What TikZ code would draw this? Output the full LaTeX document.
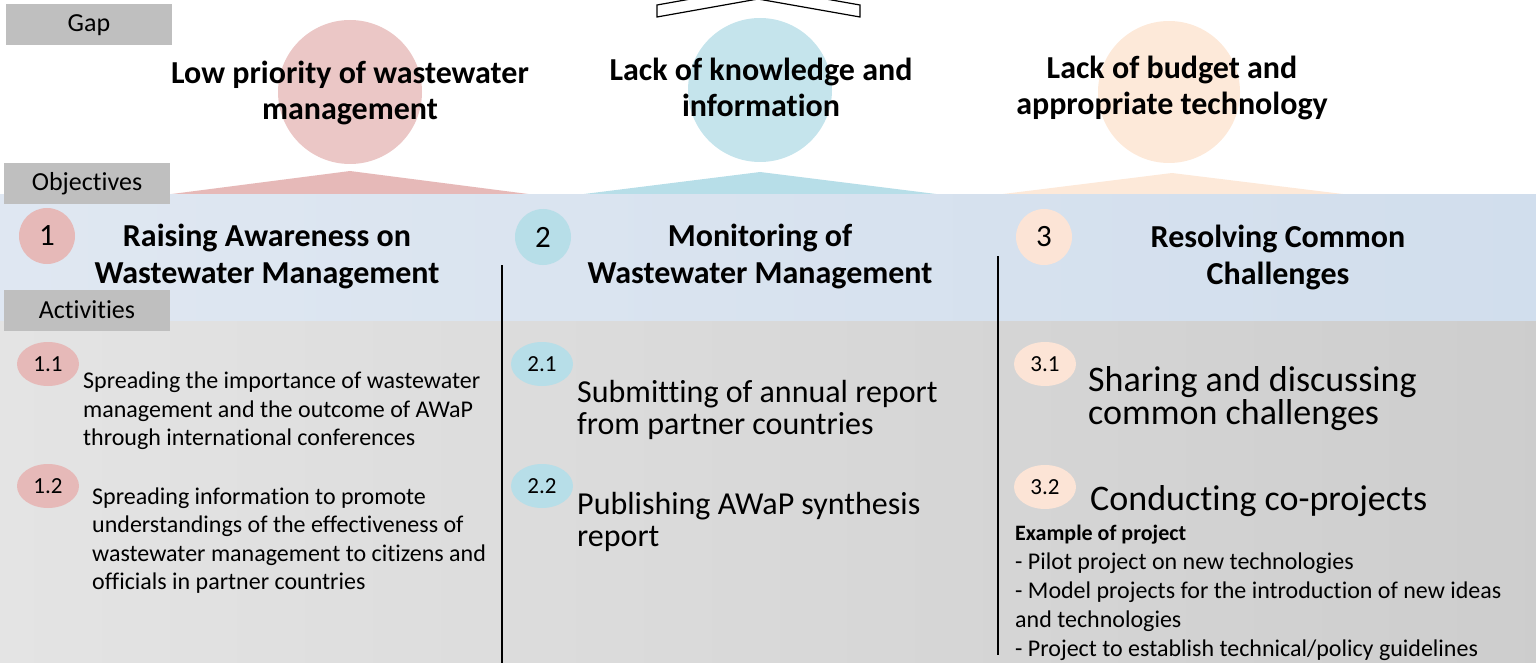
\documentclass[tikz,border=0pt]{standalone}
\usepackage{fontspec}
\setmainfont{Carlito}[Ligatures=NoCommon]
\usetikzlibrary{shapes.geometric}

\definecolor{taggray}{HTML}{BFBFBF}
\definecolor{pinkgap}{HTML}{EBC7C6}
\definecolor{bluegap}{HTML}{C5E4EC}
\definecolor{peachgap}{HTML}{FDE9D9}
\definecolor{pinkc}{HTML}{E6B9B8}
\definecolor{bluec}{HTML}{B7DEE8}
\definecolor{peachc}{HTML}{FCE4D6}
\definecolor{bandA}{HTML}{E3EAF3}
\definecolor{bandB}{HTML}{CAD9EA}
\definecolor{actA}{HTML}{E4E4E4}
\definecolor{actB}{HTML}{C2C2C2}

\pgfdeclarehorizontalshading{objband}{100bp}{color(0bp)=(white); color(12bp)=(bandA); color(100bp)=(bandB)}
\pgfdeclarehorizontalshading{actband}{100bp}{color(0bp)=(white); color(25bp)=(actA); color(100bp)=(actB)}

\tikzset{
  tag/.style={fill=taggray, minimum width=166pt, minimum height=41pt, inner sep=0pt,
    font=\fontsize{26}{28}\selectfont},
  gaptext/.style={align=center, font=\bfseries\fontsize{32}{36}\selectfont},
  objtext/.style={align=center, font=\bfseries\fontsize{32}{37}\selectfont},
  numdot/.style={circle, minimum size=56pt, inner sep=0pt, font=\fontsize{31}{32}\selectfont},
  subdot/.style={ellipse, minimum width=62pt, minimum height=44pt, inner sep=0pt,
    font=\fontsize{23}{24}\selectfont},
  smalltext/.style={align=left, anchor=west, inner sep=0pt, font=\fontsize{24}{28.5}\selectfont},
  bigtext/.style={align=left, anchor=west, inner sep=0pt, font=\fontsize{32}{32}\selectfont},
  divider/.style={line width=1.6pt}
}

\begin{document}
\begin{tikzpicture}[x=1pt,y=-1pt]
  \useasboundingbox (0,0) rectangle (1536,663);

  % arrow at the top, cut by the page edge
  \begin{scope}
    \clip (0,0) rectangle (1536,663);
    \draw[fill=white,line width=1.2pt] (657,5) -- (758,-13) -- (860,5) -- (860,17)
      -- (758,-1) -- (657,17) -- cycle;
  \end{scope}

  % gaps
  \fill[pinkgap] (350,92) circle (72);
  \fill[bluegap] (760,90) circle (72);
  \fill[peachgap] (1169,92) circle (71);
  \node[gaptext] (gap1) at (350,93) {Low priority of wastewater\\management};
  \node[gaptext] (gap2) at (761,87) {Lack of knowledge and\\information};
  \node[gaptext] (gap3) at (1172,88) {Lack of budget and\\appropriate technology};

  % wedges under the gaps
  \fill[pinkc] (164,195) -- (350,171) -- (536,195) -- cycle;
  \fill[bluec] (576,195) -- (760,172) -- (944,195) -- cycle;
  \fill[peachgap] (987,196) -- (1172,173) -- (1359,196) -- cycle;

  % bands
  \shade[shading=objband] (0,195) rectangle (1536,321);
  \shade[shading=actband] (0,321) rectangle (1536,663);

  % row tags
  \node[tag] (gaptag) at (89,25) {Gap};
  \node[tag] (objtag) at (87,184) {Objectives};
  \node[tag] (acttag) at (87,310) {Activities};

  % objectives
  \node[numdot,fill=pinkc] (o1) at (47,236) {1};
  \node[numdot,fill=bluec] (o2) at (543,237) {2};
  \node[numdot,fill=peachc] (o3) at (1044,237) {3};
  \node[objtext] (obj1) at (267,256) {Raising Awareness on\\Wastewater Management};
  \node[objtext] (obj2) at (760,256) {Monitoring of\\Wastewater Management};
  \node[objtext] (obj3) at (1278,257) {Resolving Common\\Challenges};

  \draw[divider] (502,265) -- (502,663);
  \draw[divider] (998,256) -- (998,655);

  % activities
  \node[subdot,fill=pinkc] (a11) at (48,364) {1.1};
  \node[subdot,fill=pinkc] (a12) at (48,486) {1.2};
  \node[subdot,fill=bluec] (a21) at (542,364) {2.1};
  \node[subdot,fill=bluec] (a22) at (542,486) {2.2};
  \node[subdot,fill=peachc] (a31) at (1045,364) {3.1};
  \node[subdot,fill=peachc] (a32) at (1045,487) {3.2};

  \node[smalltext] (t11) at (83,411) {Spreading the importance of wastewater\\management and the outcome of AWaP\\through international conferences};
  \node[smalltext] (t12) at (92,540.5) {Spreading information to promote\\understandings of the effectiveness of\\wastewater management to citizens and\\officials in partner countries};
  \node[bigtext] (t21) at (577,410) {Submitting of annual report\\from partner countries};
  \node[bigtext] (t22) at (577,522) {Publishing AWaP synthesis\\report};
  \node[bigtext,font=\fontsize{36}{33}\selectfont] (t31) at (1088,399) {Sharing and discussing\\common challenges};
  \node[bigtext,font=\fontsize{36}{33}\selectfont] (t32) at (1090,501) {Conducting co-projects};
  \node[smalltext,font=\fontsize{24}{29}\selectfont] (t32ex) at (1015,593)
    {{\bfseries\fontsize{22}{29}\selectfont Example of project}\\- Pilot project on new technologies\\- Model projects for the introduction of new ideas\\and technologies\\- Project to establish technical/policy guidelines};
\end{tikzpicture}
\end{document}
